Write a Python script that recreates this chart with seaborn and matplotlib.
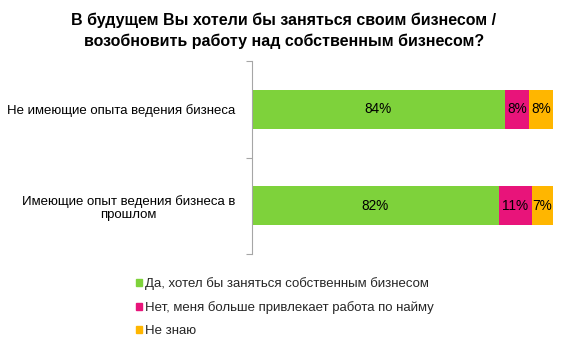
import matplotlib
matplotlib.use("Agg")
import matplotlib.pyplot as plt
import seaborn as sns
import pandas as pd
import numpy as np

sns.set_theme(style="white")
plt.rcParams['font.family'] = ['Liberation Sans', 'DejaVu Sans']

title = "В будущем Вы хотели бы заняться своим бизнесом /\nвозобновить работу над собственным бизнесом?"
categories = ["Не имеющие опыта ведения бизнеса",
              "Имеющие опыт ведения бизнеса в\nпрошлом"]
series_names = ["Да, хотел бы заняться собственным бизнесом",
                "Нет, меня больше привлекает работа по найму",
                "Не знаю"]
yes_vals = [84, 82]
no_vals = [8, 11]
dk_vals = [8, 7]
colors = ["#7ED23B", "#E8147A", "#FFB600"]

series = [yes_vals, no_vals, dk_vals]
cum = np.cumsum(np.array(series), axis=0)

fig = plt.figure(figsize=(5.68, 3.46), dpi=100)
ax = fig.add_axes([252/568, 1-254/346, 301/568, 193/346])

# stacked bars: draw cumulative totals from the widest down
for i in range(len(series) - 1, -1, -1):
    df = pd.DataFrame({"cat": categories, "val": cum[i]})
    sns.barplot(data=df, x="val", y="cat", orient="h", color=colors[i],
                saturation=1, width=0.405, ax=ax, edgecolor="none", linewidth=0)

for i, vals in enumerate(series):
    for j, v in enumerate(vals):
        center = cum[i][j] - v / 2
        ax.text(center, j, f"{v}%", ha="center", va="center", fontsize=9.8, color="#000000")

ax.set_xlim(0, 100)
ax.set_ylim(1.5, -0.5)
ax.set_xlabel("")
ax.set_ylabel("")
ax.set_xticks([])
ax.set_yticks([0, 1])
ax.set_yticklabels(categories, fontsize=9.5, multialignment="center", linespacing=1.1)
ax.tick_params(axis="y", length=0, pad=12, colors="#000000")
ax.set_yticks([-0.5, 0.5, 1.5], minor=True)
ax.tick_params(axis="y", which="minor", length=4, color="#A6A6A6", width=0.8, left=True)
for s in ["top", "right", "bottom"]:
    ax.spines[s].set_visible(False)
ax.spines["left"].set_color("#A6A6A6")
ax.spines["left"].set_linewidth(0.8)

fig.text(0.5, 1-13/346, title, ha="center", va="top", fontsize=11.5, fontweight="bold",
         linespacing=1.45, color="#000000")

handles = [plt.Rectangle((0, 0), 1, 1, color=c) for c in colors]
fig.legend(handles, series_names, loc="upper left", bbox_to_anchor=(136/568, 1-277/346),
           frameon=False, fontsize=9.5, handlelength=0.45, handleheight=0.45,
           handletextpad=0.25, labelspacing=0.85, borderaxespad=0, borderpad=0)

fig.savefig("out.png", dpi=100)
